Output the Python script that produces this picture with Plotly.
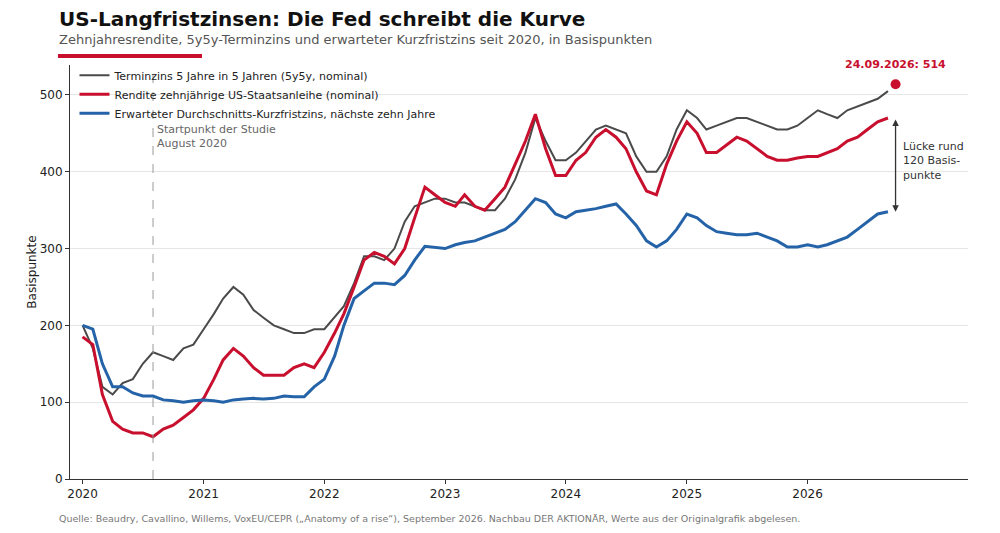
import pandas as pd
import plotly.graph_objects as go

dates = pd.date_range("2020-01-01", "2026-09-01", freq="MS")
forward_5y5y = [200,170,120,110,125,130,150,165,160,155,170,175,
                195,215,235,250,240,220,210,200,195,190,190,195,
                195,210,225,255,290,290,285,300,335,355,360,365,
                365,360,360,355,350,350,365,390,425,470,440,415,
                415,425,440,455,460,455,450,420,400,400,420,455,
                480,470,455,460,465,470,470,465,460,455,455,460,
                470,480,475,470,480,485,490,495,505]
yield_10y = [185,175,110,75,65,60,60,55,65,70,80,90,
             105,130,155,170,160,145,135,135,135,145,150,145,
             165,190,215,250,285,295,290,280,300,340,380,370,
             360,355,370,355,350,365,380,410,440,475,430,395,
             395,415,425,445,455,445,430,400,375,370,410,440,
             465,450,425,425,435,445,440,430,420,415,415,418,
             420,420,425,430,440,445,455,465,470]
exp_short = [200,195,150,120,120,112,108,108,103,102,100,102,
             103,102,100,103,104,105,104,105,108,107,107,120,
             130,160,200,235,245,255,255,253,265,285,303,302,
             300,305,308,310,315,320,325,335,350,365,360,345,
             340,348,350,352,355,358,345,330,310,302,310,325,
             345,340,330,322,320,318,318,320,315,310,302,302,
             305,302,305,310,315,325,335,345,348]
names = ["Terminzins 5 Jahre in 5 Jahren (5y5y, nominal)",
         "Rendite zehnjährige US-Staatsanleihe (nominal)",
         "Erwarteter Durchschnitts-Kurzfristzins, nächste zehn Jahre"]
colors = ["#4a4a4a", "#c8102e", "#2563a8"]
marker_date, marker_val = "2026-09-24", 514
study_date = "2020-08-01"
gap_top, gap_bottom = 470, 348
tick_years = list(range(2020, 2027))

font = "DejaVu Sans"
fig = go.Figure()
for n, c, ys, w in zip(names, colors, [forward_5y5y, yield_10y, exp_short], [2, 3, 3]):
    fig.add_trace(go.Scatter(x=dates, y=ys, name=n, mode="lines",
                             line=dict(color=c, width=w)))
fig.add_trace(go.Scatter(x=[marker_date], y=[marker_val], mode="markers", showlegend=False,
                         marker=dict(color="#c8102e", size=10)))
fig.add_annotation(x=marker_date, y=marker_val, text=f"<b>24.09.2026: {marker_val}</b>",
                   showarrow=False, yshift=20, font=dict(color="#c8102e", size=11))
fig.add_annotation(x=marker_date, y=gap_bottom, ax=marker_date, ay=gap_top,
                   xref="x", yref="y", axref="x", ayref="y", text="",
                   showarrow=True, arrowhead=2, arrowside="end+start", arrowwidth=1.3, arrowcolor="#333")
fig.add_annotation(x=marker_date, y=(gap_top + gap_bottom) / 2 + 5, text="Lücke rund<br>120 Basis-<br>punkte",
                   showarrow=False, xanchor="left", xshift=5, align="left",
                   font=dict(size=11, color="#333"))
fig.add_shape(type="line", x0=study_date, x1=study_date, y0=0, y1=1, yref="paper",
              line=dict(color="#999", width=1, dash="dash"))
fig.add_annotation(x=study_date, y=466, text="Startpunkt der Studie<br>August 2020", showarrow=False,
                   xanchor="left", yanchor="top", xshift=2, align="left",
                   font=dict(size=11, color="#666"))

fig.update_layout(
    width=1000, height=533, paper_bgcolor="white", plot_bgcolor="white",
    font=dict(family=font, color="#222", size=12),
    margin=dict(l=62, r=40, t=57, b=62, autoexpand=False),
    showlegend=True,
    legend=dict(x=0.005, y=1.01, xanchor="left", yanchor="top", bgcolor="rgba(255,255,255,0)",
                font=dict(size=11), tracegroupgap=0, itemwidth=30, traceorder="normal"),
    xaxis=dict(range=["2019-11-24", "2027-05-01"], tickvals=[f"{y}-01-01" for y in tick_years],
               ticktext=[str(y) for y in tick_years], showgrid=False, showline=True, automargin=False,
               linecolor="#333", ticks="outside", tickcolor="#333", ticklen=4),
    yaxis=dict(range=[0, 539], tickvals=[0, 100, 200, 300, 400, 500], showgrid=True, automargin=False,
               gridcolor="#e6e6e6", showline=True, linecolor="#333", ticks="outside",
               tickcolor="#333", ticklen=4, zeroline=False,
               title=dict(text="Basispunkte", font=dict(size=12), standoff=0)),
)
fig.add_annotation(xref="paper", yref="paper", x=-0.014, y=1.0, yshift=60, xanchor="left", yanchor="top",
                   text="<b>US-Langfristzinsen: Die Fed schreibt die Kurve</b>", showarrow=False,
                   font=dict(size=20, color="#111"))
fig.add_annotation(xref="paper", yref="paper", x=-0.014, y=1.0, yshift=35, xanchor="left", yanchor="top",
                   text="Zehnjahresrendite, 5y5y-Terminzins und erwarteter Kurzfristzins seit 2020, in Basispunkten",
                   showarrow=False, font=dict(size=13, color="#555"))
fig.add_shape(type="line", xref="paper", yref="paper", x0=-0.0134, x1=0.147, y0=1.022, y1=1.022,
              line=dict(color="#c8102e", width=4))
fig.add_annotation(xref="paper", yref="paper", x=-0.014, y=0, yshift=-32, xanchor="left", yanchor="top",
                   text="Quelle: Beaudry, Cavallino, Willems, VoxEU/CEPR („Anatomy of a rise“), September 2026. Nachbau DER AKTIONÄR, Werte aus der Originalgrafik abgelesen.",
                   showarrow=False, font=dict(size=9.5, color="#777"))
fig.write_html("out.html")
